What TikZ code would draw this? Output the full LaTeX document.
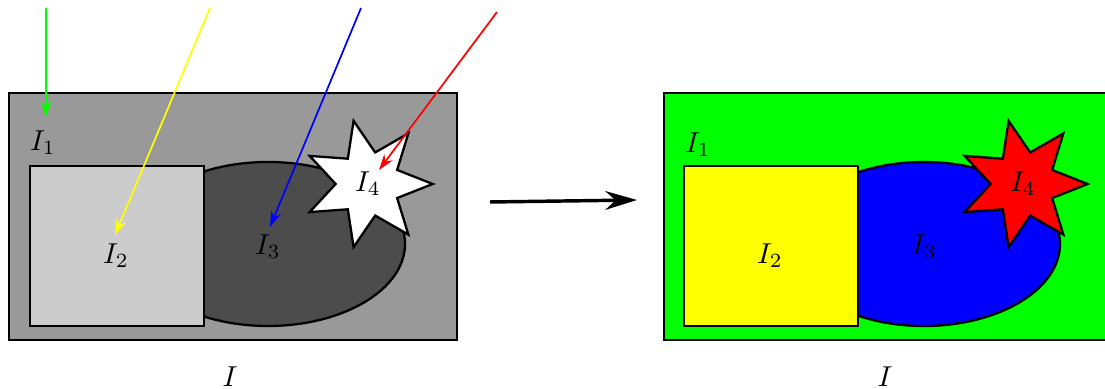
\documentclass[tikz,border=0pt]{standalone}
\usepackage{amsmath}
\usetikzlibrary{shapes.geometric,arrows.meta}
\definecolor{bggray}{gray}{0.6}
\definecolor{lightsq}{gray}{0.8}
\definecolor{darkell}{gray}{0.3}
\definecolor{pureyellow}{RGB}{255,255,0}
\definecolor{puregreen}{RGB}{0,255,0}
\tikzset{
  region/.style={draw=black, thick},
  starregion/.style={star, star points=7, star point ratio=2, minimum size=1.58cm,
    inner sep=0pt, draw=black, thick, shape border rotate=12.86},
  ray/.style={semithick, -{Stealth[length=5.5pt, width=3.6pt]}},
  maparrow/.style={very thick, -{Stealth[length=11pt, width=6.5pt]}}
}
\begin{document}
\begin{tikzpicture}[x=0.0122cm, y=-0.0122cm]
\useasboundingbox (0,0) rectangle (1105,389);

% left image
\draw[fill=bggray] (9,93) rectangle (457,340);
\draw[region, fill=darkell] (268,244) ellipse [x radius=137, y radius=82];
\draw[region, fill=lightsq] (30,166) rectangle (204,326);
\node[starregion, fill=white] (s4) at (368,184) {$I_4$};
\node (l1) at (43,143) {$I_1$};
\node (l2) at (116,256) {$I_2$};
\node (l3) at (268,247) {$I_3$};
\node (li) at (230,377) {$I$};

% rays
\coordinate (g0) at (46,8);
\coordinate (g1) at (46,117);
\coordinate (y0) at (210,8);
\coordinate (y1) at (115,235);
\coordinate (b0) at (361,8);
\coordinate (b1) at (270,227);
\coordinate (r0) at (497,12);
\coordinate (r1) at (379,170);
\draw[ray, puregreen] (g0) -- (g1);
\draw[ray, pureyellow] (y0) -- (y1);
\draw[ray, blue] (b0) -- (b1);
\draw[ray, red] (r0) -- (r1);

% map
\coordinate (m0) at (490,202);
\coordinate (m1) at (637,200);
\draw[maparrow] (m0) -- (m1);

% right image
\draw[fill=puregreen] (664,93) rectangle (1112,340);
\draw[region, fill=blue] (924,244) ellipse [x radius=136, y radius=82];
\draw[region, fill=pureyellow] (684,166) rectangle (858,326);
\node[starregion, fill=red] (t4) at (1023,184) {$I_4$};
\node (k1) at (698,145) {$I_1$};
\node (k2) at (770,256) {$I_2$};
\node (k3) at (924,247) {$I_3$};
\node (ki) at (885,377) {$I$};

\end{tikzpicture}
\end{document}
